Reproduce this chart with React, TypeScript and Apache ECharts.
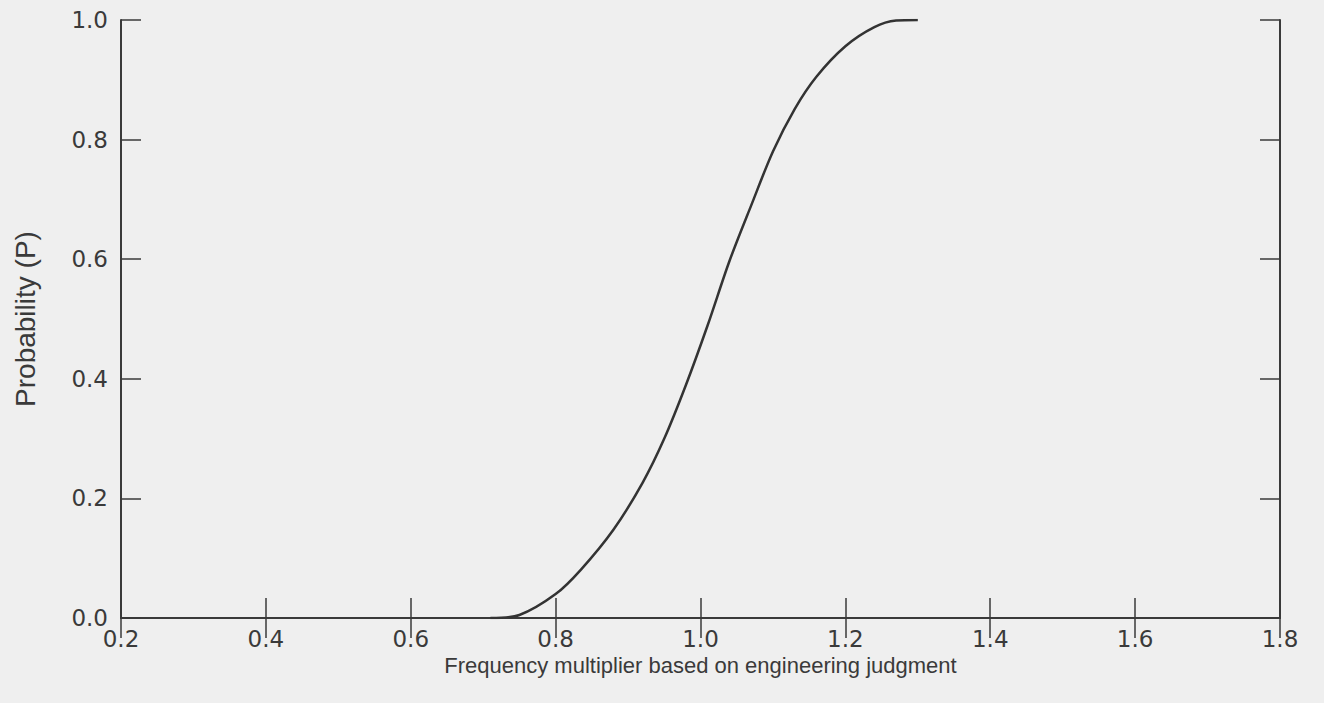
import React, { useEffect, useRef } from "react";
import * as echarts from "echarts";

const xTickValues = [0.2, 0.4, 0.6, 0.8, 1.0, 1.2, 1.4, 1.6, 1.8];
const yTickValues = [0.0, 0.2, 0.4, 0.6, 0.8, 1.0];

const multiplier = [0.71, 0.75, 0.8, 0.835, 0.88, 0.92, 0.95, 0.98, 1.01, 1.04, 1.07, 1.1, 1.13, 1.16, 1.2, 1.24, 1.27, 1.3];
const probability = [0.0, 0.005, 0.04, 0.081, 0.148, 0.226, 0.3, 0.39, 0.49, 0.597, 0.69, 0.78, 0.851, 0.905, 0.956, 0.988, 0.999, 1.0];

const xTitle = "Frequency multiplier based on engineering judgment";
const yTitle = "Probability (P)";

const INK = "#3a3a3a";
const FONT = "Liberation Sans";
const TICK_FONT = "DejaVu Sans";

export default function App() {
  const ref = useRef<HTMLDivElement>(null);
  useEffect(() => {
    if (!ref.current) return;
    const chart = echarts.init(ref.current, null, { renderer: "svg" });
    const data = multiplier.map((x, i) => [x, probability[i]]);
    const axisLine = { show: true, lineStyle: { color: INK, width: 2 } };
    const axisTick = { show: true, inside: true, length: 20, lineStyle: { color: INK, width: 1.5 } };
    const xMin = xTickValues[0];
    const xMax = xTickValues[xTickValues.length - 1];
    const yMin = yTickValues[0];
    const yMax = yTickValues[yTickValues.length - 1];
    chart.setOption({
      animation: false,
      backgroundColor: "#efefef",
      grid: { left: 121, right: 44, top: 20, bottom: 85 },
      xAxis: [
        {
          type: "value", min: xMin, max: xMax, interval: 0.2, position: "bottom",
          axisLine, axisTick, splitLine: { show: false },
          axisLabel: {
            color: INK, fontFamily: TICK_FONT, fontSize: 23, margin: 9,
            formatter: (v: number) => v.toFixed(1),
          },
          name: xTitle, nameLocation: "middle", nameGap: 34,
          nameTextStyle: { color: INK, fontFamily: FONT, fontSize: 22 },
        },
        {
          type: "value", min: xMin, max: xMax, interval: 0.2, position: "top",
          axisLine, axisTick, splitLine: { show: false }, axisLabel: { show: false },
        },
      ],
      yAxis: [
        {
          type: "value", min: yMin, max: yMax, interval: 0.2, position: "left",
          axisLine, axisTick, splitLine: { show: false },
          axisLabel: {
            color: INK, fontFamily: TICK_FONT, fontSize: 23, margin: 13,
            formatter: (v: number) => v.toFixed(1),
          },
          name: yTitle, nameLocation: "middle", nameGap: 82,
          nameTextStyle: { color: INK, fontFamily: FONT, fontSize: 28 },
        },
        {
          type: "value", min: yMin, max: yMax, interval: 0.2, position: "right",
          axisLine, axisTick, splitLine: { show: false }, axisLabel: { show: false },
        },
      ],
      series: [
        {
          type: "line", data, smooth: 0.3, showSymbol: false,
          lineStyle: { color: "#333", width: 2.5 },
        },
      ],
    });
    return () => chart.dispose();
  }, []);
  return (
    <div
      ref={ref}
      style={{ position: "fixed", left: 0, top: 0, width: 1324, height: 703 }}
    />
  );
}
